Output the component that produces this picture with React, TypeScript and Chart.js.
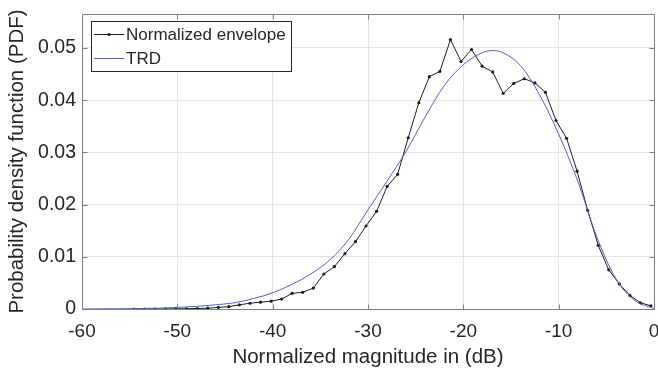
import React, { useEffect, useRef } from "react";
import { Chart, registerables } from "chart.js";

Chart.register(...registerables);

// ---- data ----
const seriesNames = ["Normalized envelope", "TRD"];

const envelopeX = [
  -54.56, -53.45, -52.35, -51.24, -50.13, -49.03, -47.92, -46.81, -45.7, -44.6,
  -43.49, -42.38, -41.28, -40.17, -39.06, -37.96, -36.85, -35.74, -34.63, -33.53,
  -32.42, -31.31, -30.21, -29.1, -27.99, -26.89, -25.78, -24.67, -23.56, -22.46,
  -21.35, -20.24, -19.14, -18.03, -16.92, -15.82, -14.71, -13.6, -12.49, -11.39,
  -10.28, -9.17, -8.07, -6.96, -5.85, -4.75, -3.64, -2.53, -1.42, -0.32,
];
const envelopeY = [
  0, 0, 0, 0, 0.00003, 0.00005, 0.0001, 0.00015, 0.0003, 0.00045,
  0.0008, 0.0011, 0.0013, 0.0015, 0.0019, 0.003, 0.0032, 0.004, 0.0067, 0.0081,
  0.0106, 0.0129, 0.0159, 0.0187, 0.0235, 0.0258, 0.0328, 0.0395, 0.0445, 0.0455,
  0.0516, 0.0474, 0.0497, 0.0465, 0.0454, 0.0413, 0.0432, 0.0441, 0.0433, 0.0415,
  0.0361, 0.0327, 0.0264, 0.0189, 0.0122, 0.0075, 0.0048, 0.0026, 0.0012, 0.0006,
];

const trdX = [
  -60, -56, -52, -50, -48, -46, -44, -42, -40, -38, -36, -34, -32, -30, -28, -26,
  -24, -22, -20, -18, -17, -16, -14, -12, -10, -8, -6, -4, -2, 0,
];
const trdY = [
  0, 0.00005, 0.00015, 0.0003, 0.0005, 0.0008, 0.0012, 0.002, 0.0031, 0.0047, 0.0067,
  0.0094, 0.0134, 0.019, 0.0245, 0.0302, 0.0368, 0.0428, 0.0468, 0.0491, 0.0495,
  0.0492, 0.0466, 0.041, 0.0335, 0.0245, 0.0138, 0.0058, 0.0016, 0.0001,
];

const xTicks = [-60, -50, -40, -30, -20, -10, 0];
const yTicks = [0, 0.01, 0.02, 0.03, 0.04, 0.05];
const xTitle = "Normalized magnitude in (dB)";
const yTitle = "Probability density function (PDF)";

const FONT = "'Liberation Sans', Arial, Helvetica, sans-serif";
const TEXT = "#262626";
const ENV_COLOR = "#1e1e1e";
const TRD_COLOR = "#4a62c8";

const boxPlugin = {
  id: "matlabBox",
  afterDatasetsDraw(chart: any) {
    const { ctx, chartArea: a, scales } = chart;
    const x = scales.x;
    const y = scales.y;
    const L = Math.round(a.left) + 0.5;
    const R = Math.round(a.right) + 0.5;
    const T = Math.round(a.top) + 0.5;
    const B = Math.round(a.bottom) + 0.5;
    ctx.save();
    ctx.strokeStyle = "#808080";
    ctx.lineWidth = 1;
    ctx.beginPath();
    ctx.rect(L, T, R - L, B - T);
    const tl = 5;
    xTicks.forEach((v) => {
      const px = Math.round(x.getPixelForValue(v)) + 0.5;
      ctx.moveTo(px, B);
      ctx.lineTo(px, B - tl);
      ctx.moveTo(px, T);
      ctx.lineTo(px, T + tl);
    });
    yTicks.forEach((v) => {
      const py = Math.round(y.getPixelForValue(v)) + 0.5;
      ctx.moveTo(L, py);
      ctx.lineTo(L + tl, py);
      ctx.moveTo(R, py);
      ctx.lineTo(R - tl, py);
    });
    ctx.stroke();

    // legend
    const lx = a.left + 9;
    const ly = a.top + 7;
    const lw = 200;
    const lh = 50;
    ctx.fillStyle = "#ffffff";
    ctx.fillRect(lx, ly, lw, lh);
    ctx.strokeStyle = "#262626";
    ctx.strokeRect(lx + 0.5, ly + 0.5, lw, lh);
    const rows = [
      { label: chart.data.datasets[0].label, color: ENV_COLOR, marker: true, cy: ly + 13.5 },
      { label: chart.data.datasets[1].label, color: TRD_COLOR, marker: false, cy: ly + 37.5 },
    ];
    ctx.font = `17px ${FONT}`;
    ctx.textBaseline = "middle";
    ctx.textAlign = "left";
    rows.forEach((r) => {
      ctx.strokeStyle = r.color;
      ctx.lineWidth = 1;
      ctx.beginPath();
      ctx.moveTo(lx + 3, r.cy);
      ctx.lineTo(lx + 33, r.cy);
      ctx.stroke();
      if (r.marker) {
        ctx.fillStyle = r.color;
        ctx.beginPath();
        ctx.arc(lx + 18, r.cy, 1.6, 0, Math.PI * 2);
        ctx.fill();
      }
      ctx.fillStyle = TEXT;
      ctx.fillText(r.label, lx + 35, r.cy + 1);
    });
    ctx.restore();
  },
};

export default function App() {
  const ref = useRef<HTMLCanvasElement | null>(null);

  useEffect(() => {
    if (!ref.current) return;
    const chart = new Chart(ref.current, {
      type: "line",
      data: {
        datasets: [
          {
            label: seriesNames[0],
            data: envelopeX.map((x, i) => ({ x, y: envelopeY[i] })),
            borderColor: ENV_COLOR,
            backgroundColor: ENV_COLOR,
            borderWidth: 1,
            pointRadius: 1.6,
            pointBorderWidth: 0,
            pointBackgroundColor: ENV_COLOR,
            tension: 0,
            order: 1,
          },
          {
            label: seriesNames[1],
            data: trdX.map((x, i) => ({ x, y: trdY[i] })),
            borderColor: TRD_COLOR,
            backgroundColor: TRD_COLOR,
            borderWidth: 1,
            pointRadius: 0,
            cubicInterpolationMode: "monotone",
            order: 0,
          },
        ],
      },
      options: {
        animation: false,
        responsive: false,
        devicePixelRatio: 1,
        layout: { padding: { top: 14, right: 2, left: 0, bottom: 0 } },
        plugins: { legend: { display: false }, tooltip: { enabled: false } },
        scales: {
          x: {
            type: "linear",
            min: -60,
            max: 0,
            grid: { color: "#e4e4e4", drawTicks: false },
            border: { display: false },
            ticks: {
              stepSize: 10,
              includeBounds: false,
              maxRotation: 0,
              autoSkip: false,
              padding: 11,
              color: TEXT,
              font: { family: FONT, size: 19 },
            },
            title: {
              display: true,
              text: xTitle,
              color: TEXT,
              font: { family: FONT, size: 20.5 },
              padding: { top: 0, bottom: 1 },
            },
            afterFit: (s: any) => {
              s.height = 62;
              s.paddingRight = 0;
              s.paddingLeft = 0;
            },
          },
          y: {
            type: "linear",
            min: 0,
            max: 0.0565,
            grid: { color: "#e4e4e4", drawTicks: false },
            border: { display: false },
            ticks: {
              stepSize: 0.01,
              includeBounds: false,
              padding: 6,
              color: TEXT,
              font: { family: FONT, size: 19.5 },
              callback: (v: any) => (Number(v) === 0 ? "0" : Number(v).toFixed(2)),
            },
            title: {
              display: true,
              text: yTitle,
              color: TEXT,
              font: { family: FONT, size: 20.5 },
              padding: { top: 5, bottom: 0 },
            },
            afterFit: (s: any) => {
              s.width = 82;
              s.paddingTop = 0;
              s.paddingBottom = 0;
            },
          },
        },
      },
      plugins: [boxPlugin],
    });
    return () => chart.destroy();
  }, []);

  return (
    <div style={{ position: "fixed", left: 0, top: 0, width: 658, height: 371, background: "#fff" }}>
      <canvas ref={ref} width={658} height={371} style={{ display: "block" }} />
    </div>
  );
}
